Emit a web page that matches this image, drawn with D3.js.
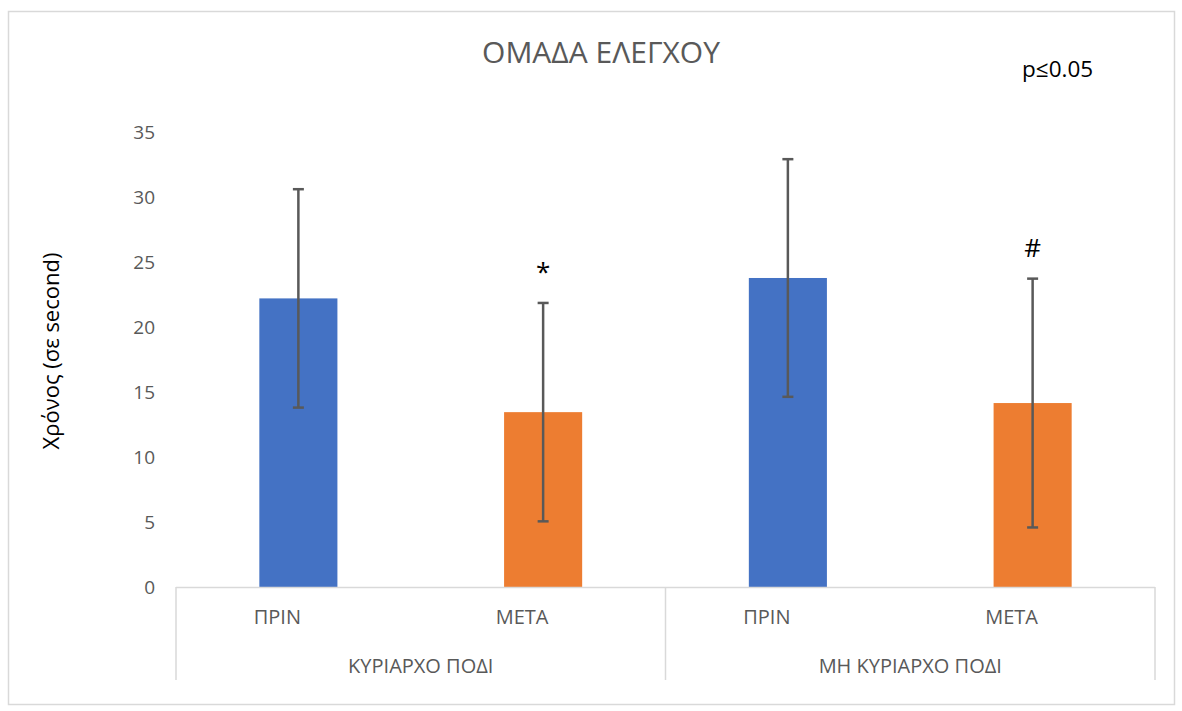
<!DOCTYPE html>
<html>
<head>
<meta charset="utf-8">
<script src="https://cdn.jsdelivr.net/npm/d3@7/dist/d3.min.js"></script>
<style>
  html, body { margin: 0; padding: 0; background: #fff; }
  svg { display: block; font-family: "Open Sans", "Noto Sans", sans-serif; }
</style>
</head>
<body>
<svg id="chart" width="1182" height="711"></svg>
<script>
// Balance test times, control group
const categories = ["ΠΡΙΝ", "ΜΕΤΑ", "ΠΡΙΝ", "ΜΕΤΑ"];
const groups = ["ΚΥΡΙΑΡΧΟ ΠΟΔΙ", "ΜΗ ΚΥΡΙΑΡΧΟ ΠΟΔΙ"];
const means = [22.2, 13.45, 23.77, 14.15];
const sds = [8.4, 8.4, 9.14, 9.57];
const marks = ["", "*", "", "#"];
const barColors = ["#4472C4", "#ED7D31", "#4472C4", "#ED7D31"];
const yTicks = [0, 5, 10, 15, 20, 25, 30, 35];

const svg = d3.select("#chart");
const plotLeft = 176, plotRight = 1155, plotBase = 587, plotTop = 132;

// outer frame
svg.append("rect")
  .attr("x", 8.5).attr("y", 11.5).attr("width", 1166).attr("height", 693)
  .attr("fill", "#fff").attr("stroke", "#d9d9d9").attr("stroke-width", 1.5);

const x = d3.scaleBand()
  .domain(d3.range(categories.length))
  .range([plotLeft, plotRight])
  .paddingInner(0.681).paddingOuter(0.3405);

const y = d3.scaleLinear().domain([0, 35]).range([plotBase, plotTop]);

// y tick labels (no axis line)
const yAxis = d3.axisLeft(y).tickValues(yTicks).tickSize(0).tickPadding(0);
const yg = svg.append("g").attr("transform", "translate(155,0)").call(yAxis);
yg.select(".domain").remove();
yg.selectAll("text")
  .attr("fill", "#595959").style("font-size", "19px")
  .style("font-family", "'Open Sans', sans-serif");

// bars
svg.append("g").selectAll("rect").data(means).join("rect")
  .attr("x", (d, i) => x(i))
  .attr("width", x.bandwidth())
  .attr("y", d => y(d))
  .attr("height", d => plotBase - y(d))
  .attr("fill", (d, i) => barColors[i]);

// error bars
const eg = svg.append("g").attr("stroke", "#595959").attr("stroke-width", 2.5);
means.forEach((m, i) => {
  const cx = x(i) + x.bandwidth() / 2;
  const y1 = y(m + sds[i]), y0 = y(m - sds[i]);
  eg.append("line").attr("x1", cx).attr("x2", cx).attr("y1", y1).attr("y2", y0);
  eg.append("line").attr("x1", cx - 5.5).attr("x2", cx + 5.5).attr("y1", y1).attr("y2", y1);
  eg.append("line").attr("x1", cx - 5.5).attr("x2", cx + 5.5).attr("y1", y0).attr("y2", y0);
});

// significance marks
svg.append("g").selectAll("text").data(marks).join("text")
  .attr("x", (d, i) => x(i) + x.bandwidth() / 2)
  .attr("y", (d, i) => y(means[i] + sds[i]) - 22)
  .attr("text-anchor", "middle")
  .attr("fill", "#000")
  .style("font-size", "26px")
  .text(d => d);

// category axis: baseline and group separators
const ax = svg.append("g").attr("stroke", "#d9d9d9").attr("stroke-width", 1.5);
ax.append("line").attr("x1", plotLeft).attr("x2", plotRight)
  .attr("y1", plotBase + 0.5).attr("y2", plotBase + 0.5);
const groupEdges = [plotLeft, (plotLeft + plotRight) / 2, plotRight];
groupEdges.forEach(gx => {
  ax.append("line").attr("x1", gx).attr("x2", gx).attr("y1", plotBase).attr("y2", 680);
});

// category labels
svg.append("g").selectAll("text").data(categories).join("text")
  .attr("x", (d, i) => x(i) + x.bandwidth() / 2 - 21)
  .attr("y", 624)
  .attr("text-anchor", "middle")
  .attr("fill", "#595959")
  .style("font-size", "20px")
  .text(d => d);

// group labels
svg.append("g").selectAll("text").data(groups).join("text")
  .attr("x", (d, i) => (groupEdges[i] + groupEdges[i + 1]) / 2)
  .attr("y", 673)
  .attr("text-anchor", "middle")
  .attr("fill", "#595959")
  .style("font-size", "20px")
  .text(d => d);

// title
svg.append("text")
  .attr("x", 601).attr("y", 63)
  .attr("text-anchor", "middle")
  .attr("fill", "#595959")
  .style("font-size", "30px")
  .text("ΟΜΑΔΑ ΕΛΕΓΧΟΥ");

// p-value note
svg.append("text")
  .attr("x", 1022).attr("y", 77)
  .attr("fill", "#000")
  .style("font-size", "22.5px")
  .text("p≤0.05");

// y axis title
svg.append("text")
  .attr("transform", "translate(59,351) rotate(-90)")
  .attr("text-anchor", "middle")
  .attr("fill", "#000")
  .style("font-size", "22px")
  .text("Χρόνος (σε second)");
</script>
</body>
</html>
